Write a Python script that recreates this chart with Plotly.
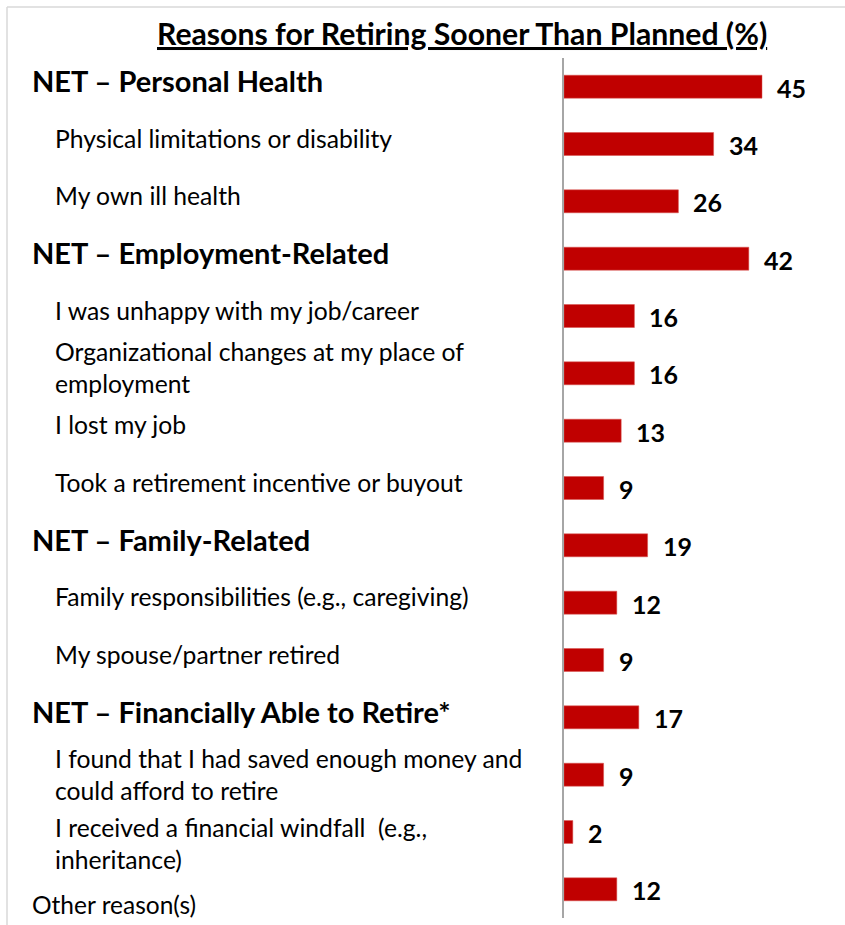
import plotly.graph_objects as go

categories = [
    "NET – Personal Health",
    "Physical limitations or disability",
    "My own ill health",
    "NET – Employment-Related",
    "I was unhappy with my job/career",
    "Organizational changes at my place of<br>employment",
    "I lost my job",
    "Took a retirement incentive or buyout",
    "NET – Family-Related",
    "Family responsibilities (e.g., caregiving)",
    "My spouse/partner retired",
    "NET – Financially Able to Retire*",
    "I found that I had saved enough money and<br>could afford to retire",
    "I received a financial windfall  (e.g.,<br>inheritance)",
    "Other reason(s)",
]
values = [45, 34, 26, 42, 16, 16, 13, 9, 19, 12, 9, 17, 9, 2, 12]
is_net = [True, False, False, True, False, False, False, False, True, False, False, True, False, False, False]
title = "Reasons for Retiring Sooner Than Planned (%)"

FONT = "Lato"
W, H = 845, 925
ML, MR, MT, MB = 564, 0, 58, 7
PX_PER_UNIT = 4.4
xmax = (W - ML - MR) / PX_PER_UNIT

ids = list(range(len(categories)))

fig = go.Figure()
fig.add_trace(go.Bar(
    x=values, y=ids, orientation="h",
    marker=dict(color="#C00000", line=dict(color="#D9534F", width=0.5)),
    width=0.4, hoverinfo="skip",
))

annotations = []
plot_w = W - ML - MR
plot_h = H - MT - MB
for i, (cat, v, net) in enumerate(zip(categories, values, is_net)):
    if cat.startswith("Other"):
        xpx, ys, size, bold = 30, -15, 24.5, False
    elif net:
        xpx, ys, size, bold = 30, 6, 29, True
    else:
        xpx, ys, size, bold = 53, 6, 24.7, False
    if "windfall" in cat:
        ys = -11
    if "saved enough" in cat:
        ys = 0
    annotations.append(dict(
        x=(xpx - ML) / plot_w, xref="paper", y=i, yref="y",
        text=f"<b>{cat}</b>" if bold else cat,
        xanchor="left", yanchor="middle", align="left", showarrow=False,
        yshift=ys, font=dict(family=FONT, size=size, color="#000000"),
    ))
    annotations.append(dict(
        x=v, xref="x", y=i, yref="y", text=f"<b>{v}</b>",
        xanchor="left", yanchor="middle", showarrow=False, xshift=13, yshift=-1,
        font=dict(family=FONT, size=25, color="#000000"),
    ))

annotations.append(dict(
    x=(462 - ML) / plot_w, xref="paper", y=1 + (MT - 33) / plot_h, yref="paper",
    text=f"<b><u>{title}</u></b>", showarrow=False,
    xanchor="center", yanchor="middle",
    font=dict(family=FONT, size=30.2, color="#000000"),
))

top_y = 1 + (MT - 7) / plot_h
left_x = (7 - ML) / plot_w
fig.update_layout(
    width=W, height=H,
    margin=dict(l=ML, r=MR, t=MT, b=MB),
    paper_bgcolor="white", plot_bgcolor="white",
    showlegend=False,
    xaxis=dict(range=[0, xmax], visible=False, fixedrange=True),
    yaxis=dict(range=[len(categories) - 0.5, -0.5], showticklabels=False,
               showgrid=False, zeroline=False, showline=True,
               linecolor="#A6A6A6", linewidth=1.5, ticks="", fixedrange=True),
    annotations=annotations,
    shapes=[
        dict(type="line", xref="paper", yref="paper",
             x0=left_x, x1=(W - ML) / plot_w, y0=top_y, y1=top_y,
             line=dict(color="#D9D9D9", width=1.5)),
        dict(type="line", xref="paper", yref="paper",
             x0=left_x, x1=left_x, y0=top_y, y1=-MB / plot_h,
             line=dict(color="#D9D9D9", width=1.5)),
    ],
)

fig.write_html("out.html", config={"displayModeBar": False},
               post_script="document.body.style.margin='0';document.body.style.overflow='hidden';")
